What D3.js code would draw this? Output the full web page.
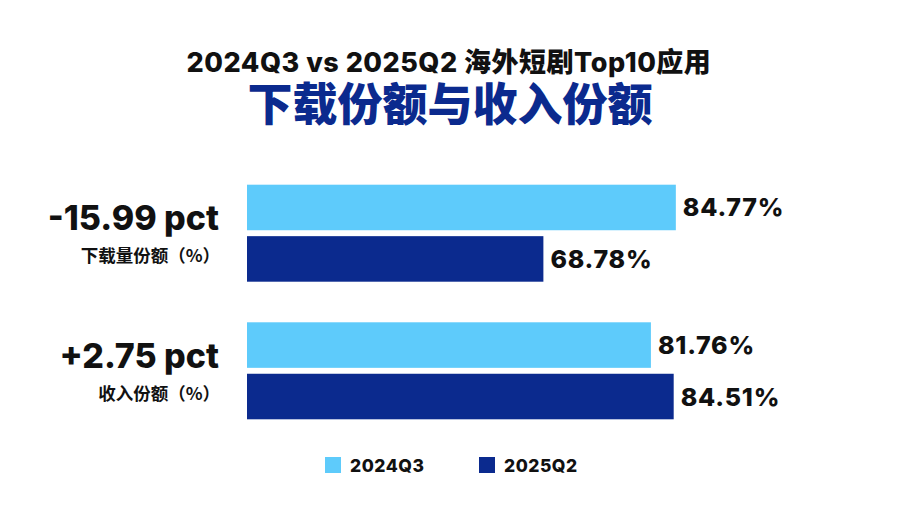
<!DOCTYPE html>
<html><head><meta charset="utf-8">
<script src="https://cdn.jsdelivr.net/npm/d3@7/dist/d3.min.js"></script>
<style>
html,body{margin:0;padding:0;background:#fff;}
svg{display:block;}
</style></head>
<body><svg id="c" width="900" height="508"></svg>
<script>
const titleLine1 = "2024Q3 vs 2025Q2 海外短剧Top10应用";
const titleLine2 = "下载份额与收入份额";
const categories = ["下载量份额（%）", "收入份额（%）"];
const changeLabels = ["-15.99 pct", "+2.75 pct"];
const series = ["2024Q3", "2025Q2"];
const values2024Q3 = [84.77, 81.76];
const values2025Q2 = [68.78, 84.51];

const colors = {"2024Q3": "#5ecbfb", "2025Q2": "#0b2a8e"};
const numFont = "Inter, 'Noto Sans CJK SC', sans-serif";
const cjkFont = "'Noto Sans CJK SC', Inter, sans-serif";

const data = categories.map((c, i) => ({
  cat: c, change: changeLabels[i],
  vals: [{s: series[0], v: values2024Q3[i]}, {s: series[1], v: values2025Q2[i]}]
}));

const svg = d3.select("#c");

svg.append("text").attr("x", 449).attr("y", 72).attr("text-anchor", "middle")
  .attr("font-family", numFont).attr("font-weight", 800).attr("font-size", 27)
  .attr("letter-spacing", 0.5).attr("fill", "#111").text(titleLine1);
svg.append("text").attr("x", 450).attr("y", 121).attr("text-anchor", "middle")
  .attr("font-family", cjkFont).attr("font-weight", 900).attr("font-size", 45)
  .attr("fill", "#0b2a8e").text(titleLine2);

const x = d3.scaleLinear().domain([33, 100]).range([247, 802]);
const y = d3.scaleBand().domain(categories).range([184.7, 419.3]).paddingInner(0.295);
const yi = d3.scaleBand().domain(series).range([0, y.bandwidth()]).paddingInner(0.115);

const g = svg.selectAll("g.grp").data(data).join("g").attr("class", "grp")
  .attr("transform", d => `translate(0,${y(d.cat)})`);

g.selectAll("rect").data(d => d.vals).join("rect")
  .attr("x", x(33)).attr("y", d => yi(d.s))
  .attr("width", d => x(d.v) - x(33)).attr("height", yi.bandwidth())
  .attr("fill", d => colors[d.s]);

g.selectAll("text.val").data(d => d.vals).join("text").attr("class", "val")
  .attr("x", d => x(d.v) + 7).attr("y", d => yi(d.s) + yi.bandwidth() / 2 + 9)
  .attr("font-family", numFont).attr("font-weight", 800).attr("font-size", 25)
  .attr("letter-spacing", 0.8).attr("fill", "#111").text(d => d.v.toFixed(2) + "%");

g.append("text").attr("x", 219).attr("y", y.bandwidth() / 2 - 3)
  .attr("text-anchor", "end").attr("font-family", numFont).attr("font-weight", 800)
  .attr("font-size", 34).attr("fill", "#111").text(d => d.change);

g.append("text").attr("x", 220).attr("y", y.bandwidth() / 2 + 29)
  .attr("text-anchor", "end").attr("font-family", cjkFont).attr("font-weight", 700)
  .attr("font-size", 17.5).attr("fill", "#111").text(d => d.cat);

const legX = [325, 479];
const leg = svg.selectAll("g.leg").data(series).join("g").attr("class", "leg")
  .attr("transform", (d, i) => `translate(${legX[i]},457)`);
leg.append("rect").attr("width", 16).attr("height", 16).attr("fill", d => colors[d]);
leg.append("text").attr("x", 25).attr("y", 14.5).attr("font-family", numFont)
  .attr("font-weight", 800).attr("font-size", 17.5).attr("letter-spacing", 0.5)
  .attr("fill", "#111").text(d => d);
</script></body></html>
